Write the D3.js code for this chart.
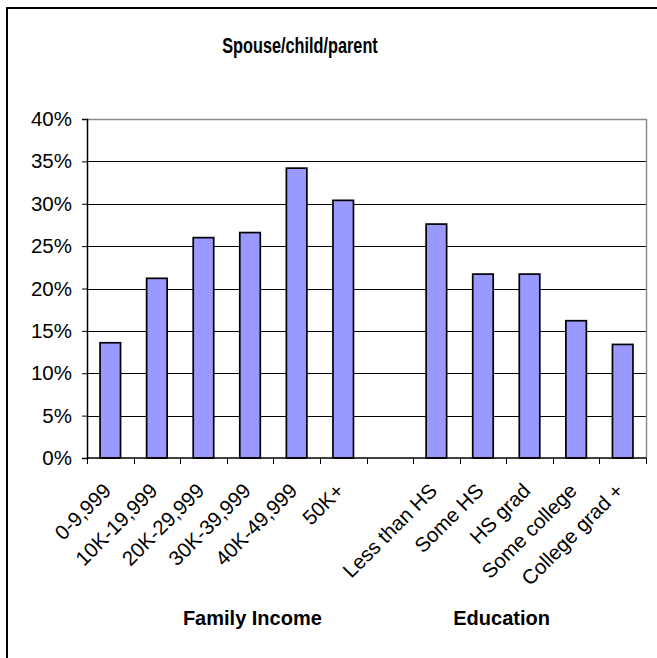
<!DOCTYPE html>
<html>
<head>
<meta charset="utf-8">
<script src="https://cdn.jsdelivr.net/npm/d3@7"></script>
<style>
  html, body { margin: 0; padding: 0; background: #fff; }
  svg { display: block; font-family: "Liberation Sans", Arial, sans-serif; }
</style>
</head>
<body>
<svg id="chart" width="657" height="658"></svg>
<script>
// Share naming spouse/child/parent, by family income and by education
const incomeCategories = ["0-9,999", "10K-19,999", "20K-29,999", "30K-39,999", "40K-49,999", "50K+"];
const incomeValues = [13.6, 21.2, 26.0, 26.6, 34.2, 30.4];
const educationCategories = ["Less than HS", "Some HS", "HS grad", "Some college", "College grad +"];
const educationValues = [27.6, 21.7, 21.7, 16.2, 13.4];
const yTicks = [0, 5, 10, 15, 20, 25, 30, 35, 40];
const groupTitles = ["Family Income", "Education"];
const chartTitle = "Spouse/child/parent";

// one empty slot separates the two groups
const gapKey = "__gap__";
const categories = [...incomeCategories, gapKey, ...educationCategories];
const rows = [
  ...incomeCategories.map((c, i) => ({ cat: c, value: incomeValues[i] })),
  ...educationCategories.map((c, i) => ({ cat: c, value: educationValues[i] }))
];

const svg = d3.select("#chart");
const W = 657, H = 658;
const plot = { left: 87, right: 646, top: 119, bottom: 458 };

svg.append("rect").attr("width", W).attr("height", H).attr("fill", "#fff");

// chart frame (left and top edges)
svg.append("path")
  .attr("d", `M7,${H} L7,8 L${W},8`)
  .attr("fill", "none").attr("stroke", "#000").attr("stroke-width", 2);

const x = d3.scaleBand().domain(categories).range([plot.left, plot.right]).padding(0);
const y = d3.scaleLinear().domain([0, 40]).range([plot.bottom, plot.top]);

// horizontal gridlines
svg.append("g").selectAll("line")
  .data(yTicks.filter(t => t > 0 && t < 40))
  .join("line")
  .attr("x1", plot.left).attr("x2", plot.right)
  .attr("y1", d => Math.round(y(d)) + 0.5).attr("y2", d => Math.round(y(d)) + 0.5)
  .attr("stroke", "#000").attr("stroke-width", 1);

// plot border: top and right in grey
svg.append("path")
  .attr("d", `M${plot.left},${y(40) + 0.5} H${plot.right + 0.5} V${plot.bottom}`)
  .attr("fill", "none").attr("stroke", "#8c8c8c").attr("stroke-width", 1.5);

// bars
const barW = x.bandwidth() * 0.44;
svg.append("g").selectAll("rect")
  .data(rows)
  .join("rect")
  .attr("x", d => x(d.cat) + (x.bandwidth() - barW) / 2)
  .attr("y", d => y(d.value))
  .attr("width", barW)
  .attr("height", d => y(0) - y(d.value))
  .attr("fill", "#9999ff")
  .attr("stroke", "#000").attr("stroke-width", 1.7);

// y axis
const yAxis = d3.axisLeft(y).tickValues(yTicks).tickSize(5).tickPadding(10)
  .tickFormat(d => d + "%");
const gy = svg.append("g").attr("transform", `translate(${plot.left},0)`).call(yAxis);
gy.select(".domain").attr("stroke", "#000").attr("stroke-width", 1.5);
gy.selectAll(".tick line").attr("stroke", "#000");
gy.selectAll(".tick text")
  .attr("font-size", 20.5).attr("fill", "#000")
  .attr("font-family", "Liberation Sans, Arial, sans-serif");

// x axis with ticks on category boundaries
const gx = svg.append("g").attr("transform", `translate(0,${plot.bottom})`);
gx.append("line")
  .attr("x1", plot.left).attr("x2", plot.right + 0.5)
  .attr("y1", 0).attr("y2", 0)
  .attr("stroke", "#000").attr("stroke-width", 1.5);
const boundaries = categories.map(c => x(c)).concat([x.range()[1]]);
gx.selectAll("line.tk")
  .data(boundaries)
  .join("line").attr("class", "tk")
  .attr("x1", d => Math.round(d) + 0.5).attr("x2", d => Math.round(d) + 0.5)
  .attr("y1", 0).attr("y2", 6)
  .attr("stroke", "#000").attr("stroke-width", 1);

// rotated category labels
gx.selectAll("text.cat")
  .data(categories.filter(c => c !== gapKey))
  .join("text").attr("class", "cat")
  .attr("transform", c => `translate(${x(c) + x.bandwidth() / 2 + 2},34) rotate(-45)`)
  .attr("text-anchor", "end")
  .attr("font-size", 20.5).attr("fill", "#000")
  .text(c => c);

// group titles under each set of categories
const groupCenters = [
  x(incomeCategories[3]) + x.bandwidth() * 0.55,
  x(educationCategories[1]) + x.bandwidth() * 0.9
];
svg.selectAll("text.group")
  .data(groupTitles)
  .join("text").attr("class", "group")
  .attr("x", (d, i) => groupCenters[i])
  .attr("y", 625)
  .attr("text-anchor", "middle")
  .attr("font-weight", "bold").attr("font-size", 20)
  .text(d => d);

// chart title, set in a condensed bold face
svg.append("text")
  .attr("transform", "translate(300,53) scale(0.74,1)")
  .attr("text-anchor", "middle")
  .attr("font-weight", "bold").attr("font-size", 22)
  .text(chartTitle);
</script>
</body>
</html>
